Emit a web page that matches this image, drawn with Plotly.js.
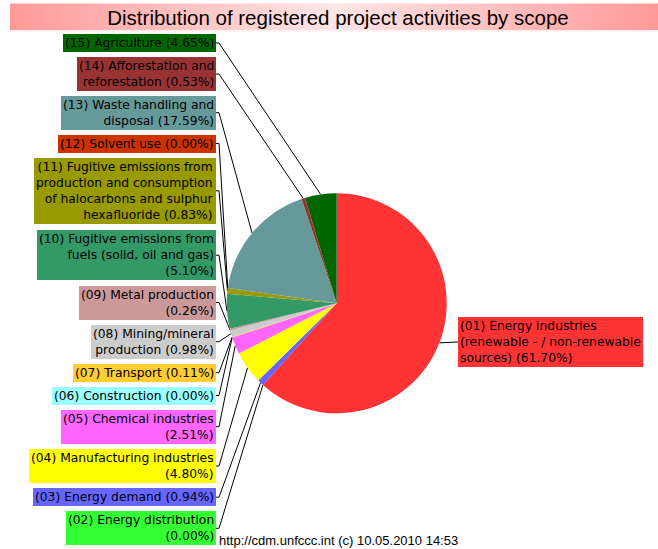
<!DOCTYPE html>
<html><head><meta charset="utf-8">
<script src="https://cdn.plot.ly/plotly-3.0.1.min.js"></script>
<style>html,body{margin:0;padding:0;background:#fff}#chart{width:658px;height:549px}</style>
</head><body><div id="chart"></div>
<script>
// ---------- data ----------
const scopeNames = [
  "(01) Energy industries<br>(renewable - / non-renewable<br>sources)",
  "(02) Energy distribution",
  "(03) Energy demand",
  "(04) Manufacturing industries",
  "(05) Chemical industries",
  "(06) Construction",
  "(07) Transport",
  "(08) Mining/mineral<br>production",
  "(09) Metal production",
  "(10) Fugitive emissions from<br>fuels (solid, oil and gas)",
  "(11) Fugitive emissions from<br>production and consumption<br>of halocarbons and sulphur<br>hexafluoride",
  "(12) Solvent use",
  "(13) Waste handling and<br>disposal",
  "(14) Afforestation and<br>reforestation",
  "(15) Agriculture"
];
const shares = [61.70, 0.00, 0.94, 4.80, 2.51, 0.00, 0.11, 0.98, 0.26, 5.10, 0.83, 0.00, 17.59, 0.53, 4.65];
const breakBeforeShare = [false, true, false, true, true, false, false, false, true, true, false, false, false, false, false];
const sliceColors = ["#FF3333", "#33FF33", "#6666FF", "#FFFF00", "#FF66FF", "#99FFFF", "#FFCC33", "#CCCCCC",
                     "#CC9999", "#339966", "#999900", "#CC3300", "#669999", "#993333", "#006600"];
const chartTitle = "Distribution of registered project activities by scope";
const footerText = "http://cdm.unfccc.int (c) 10.05.2010 14:53";

// ---------- layout constants ----------
const W = 658, H = 549;
const CX = 336.7, CY = 303.3, R = 110;
const labelMidY = [342, 528.3, 497.2, 466, 426.7, 395.5, 372.7, 341.7, 302.5, 255.2, 190.8, 143.5, 112.7, 74, 43];
const LEFT_BOX_RIGHT = 216, RIGHT_BOX_LEFT = 458;
const FONT = "Liberation Sans, Arial, sans-serif";
const LABEL_FONT = "DejaVu Sans, Verdana, sans-serif";

const total = shares.reduce((a, b) => a + b, 0);
const labelText = scopeNames.map((n, i) => n + (breakBeforeShare[i] ? "<br>" : " ") + "(" + shares[i].toFixed(2) + "%)");

// leader lines: from label box to slice edge at mid angle
const lx = [], ly = [];
let cum = 0;
shares.forEach((v, i) => {
  const mid = (cum + v / 2) / total;
  cum += v;
  const a = mid * 2 * Math.PI;
  const tx = CX + R * Math.sin(a), ty = CY - R * Math.cos(a);
  if (i === 0) {
    lx.push(RIGHT_BOX_LEFT, tx, null); ly.push(labelMidY[i], ty, null);
  } else {
    lx.push(LEFT_BOX_RIGHT, LEFT_BOX_RIGHT + 3, tx, null);
    ly.push(labelMidY[i], labelMidY[i], ty, null);
  }
});

const pie = {
  type: "pie", values: shares, labels: scopeNames.map(s => s.replace(/<br>/g, " ")),
  marker: { colors: sliceColors, line: { width: 0 } },
  sort: false, direction: "clockwise", rotation: 0, textinfo: "none",
  hoverinfo: "label+percent",
  domain: { x: [(CX - R) / W, (CX + R) / W], y: [(H - CY - R) / H, (H - CY + R) / H] }
};
const leaders = {
  type: "scatter", mode: "lines", x: lx, y: ly, hoverinfo: "skip",
  line: { color: "#000", width: 1 }, showlegend: false
};

const annotations = labelText.map((t, i) => ({
  text: t, xref: "x", yref: "y",
  x: i === 0 ? RIGHT_BOX_LEFT : LEFT_BOX_RIGHT, y: labelMidY[i],
  xanchor: i === 0 ? "left" : "right", yanchor: "middle",
  align: i === 0 ? "left" : "right", showarrow: false,
  bgcolor: sliceColors[i], borderpad: 2, borderwidth: 0,
  font: { family: LABEL_FONT, size: 12.3, color: "#000" }
}));
annotations.push({
  text: footerText, xref: "x", yref: "y", x: 217, y: 540, xanchor: "left", yanchor: "middle",
  showarrow: false, font: { family: FONT, size: 13, color: "#000" }
});

const svg = "<svg xmlns='http://www.w3.org/2000/svg' width='648' height='27' preserveAspectRatio='none' viewBox='0 0 648 27'>" +
  "<defs><linearGradient id='g' x1='0' y1='0' x2='1' y2='0'>" +
  "<stop offset='0' stop-color='#FF9999'/><stop offset='0.5' stop-color='#FFE6E6'/><stop offset='1' stop-color='#FF9999'/>" +
  "</linearGradient></defs><rect x='0' y='0' width='648' height='27' fill='url(#g)'/></svg>";

const layout = {
  width: W, height: H, margin: { l: 0, r: 0, t: 0, b: 0 },
  paper_bgcolor: "#fff", plot_bgcolor: "rgba(0,0,0,0)", showlegend: false,
  xaxis: { range: [0, W], visible: false, fixedrange: true, domain: [0, 1] },
  yaxis: { range: [H, 0], visible: false, fixedrange: true, domain: [0, 1] },
  title: { text: chartTitle, x: 338 / W, xanchor: "center", y: 1 - 17.5 / H, yanchor: "middle",
           font: { family: FONT, size: 20.5, color: "#000" } },
  images: [{ source: "data:image/svg+xml;charset=utf-8," + encodeURIComponent(svg),
             xref: "paper", yref: "paper", x: 10 / W, y: 1 - 3.3 / H, sizex: 648 / W, sizey: 27 / H,
             sizing: "stretch", xanchor: "left", yanchor: "top", layer: "below" }],
  shapes: [{ type: "line", xref: "x", yref: "y", x0: 10, x1: W, y0: 31, y1: 31, line: { color: "#FFEAEA", width: 1 } }],
  annotations: annotations
};

Plotly.newPlot("chart", [leaders, pie], layout, { displayModeBar: false, staticPlot: true });
</script>
</body></html>
